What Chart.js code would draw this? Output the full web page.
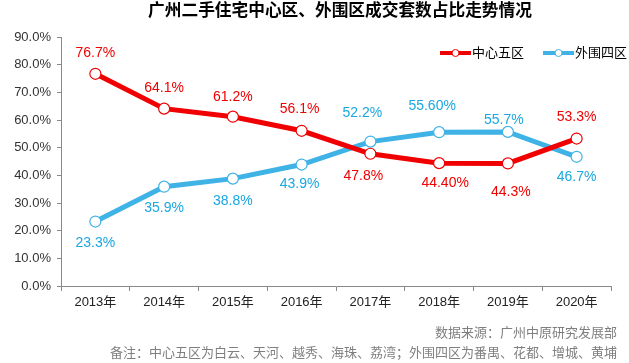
<!DOCTYPE html>
<html>
<head>
<meta charset="utf-8">
<script src="https://cdn.jsdelivr.net/npm/chart.js@4"></script>
<style>
  html, body { margin: 0; padding: 0; background: #fff; }
  #wrap { width: 629px; height: 363px; position: relative; }
</style>
</head>
<body>
<div id="wrap"><canvas id="shareChart"></canvas></div>
<script>
// data
const years = ['2013年', '2014年', '2015年', '2016年', '2017年', '2018年', '2019年', '2020年'];
const coreShare = [76.7, 64.1, 61.2, 56.1, 47.8, 44.4, 44.3, 53.3];
const outerShare = [23.3, 35.9, 38.8, 43.9, 52.2, 55.6, 55.7, 46.7];
const coreLabels = ['76.7%', '64.1%', '61.2%', '56.1%', '47.8%', '44.40%', '44.3%', '53.3%'];
const outerLabels = ['23.3%', '35.9%', '38.8%', '43.9%', '52.2%', '55.60%', '55.7%', '46.7%'];
const seriesNames = ['中心五区', '外围四区'];
const yTicks = [0, 10, 20, 30, 40, 50, 60, 70, 80, 90];

const titleText = '广州二手住宅中心区、外围区成交套数占比走势情况';
const sourceText = '数据来源：广州中原研究发展部';
const noteText = '备注：中心五区为白云、天河、越秀、海珠、荔湾；外围四区为番禺、花都、增城、黄埔';

// label placement (pixels from the point), kept apart from the data
const coreOffY = [-21, -21, -20, -22, 22, 20, 29, -21];
const coreOffX = [0, 0, 0, -2, -7, 6, 3, 0];
const outerOffY = [22, 21, 22, 20, -28, -26, -12, 20];
const outerOffX = [0, 0, 0, -2, -8, -7, -4, 0];

const RED = '#f00000';
const BLUE = '#3fb2e6';
const BLUE_TEXT = '#1aa7e0';
const FONT = '"Liberation Sans", Arial, "Noto Sans CJK SC", sans-serif';

// draws the value labels next to each point
const valueLabels = {
    id: 'valueLabels',
    afterDatasetsDraw(chart) {
        const ctx = chart.ctx;
        const sets = [
            { labels: coreLabels, dx: coreOffX, dy: coreOffY, color: RED },
            { labels: outerLabels, dx: outerOffX, dy: outerOffY, color: BLUE_TEXT }
        ];
        ctx.save();
        ctx.font = '14px ' + FONT;
        ctx.textAlign = 'center';
        ctx.textBaseline = 'middle';
        sets.forEach((s, di) => {
            const meta = chart.getDatasetMeta(di);
            meta.data.forEach((pt, i) => {
                ctx.fillStyle = s.color;
                ctx.fillText(s.labels[i], pt.x + s.dx[i], pt.y + s.dy[i]);
            });
        });
        ctx.restore();
    }
};

// title, legend and footer notes
const decorations = {
    id: 'decorations',
    afterDraw(chart) {
        const ctx = chart.ctx;
        ctx.save();
        ctx.textBaseline = 'middle';

        ctx.font = 'bold 16.7px ' + FONT;
        ctx.fillStyle = '#000';
        ctx.textAlign = 'center';
        ctx.fillText(titleText, 340, 11);

        // legend
        const items = [
            { name: seriesNames[0], color: RED, x: 440 },
            { name: seriesNames[1], color: BLUE, x: 543 }
        ];
        ctx.font = '13px ' + FONT;
        ctx.textAlign = 'left';
        items.forEach(it => {
            ctx.strokeStyle = it.color;
            ctx.lineWidth = 4;
            ctx.lineCap = 'butt';
            ctx.beginPath();
            ctx.moveTo(it.x, 53);
            ctx.lineTo(it.x + 31, 53);
            ctx.stroke();
            ctx.beginPath();
            ctx.arc(it.x + 15.5, 53, 3.5, 0, Math.PI * 2);
            ctx.fillStyle = '#fff';
            ctx.fill();
            ctx.lineWidth = 1;
            ctx.stroke();
            ctx.fillStyle = '#000';
            ctx.fillText(it.name, it.x + 32, 53);
        });

        // footer
        ctx.fillStyle = '#7f7f7f';
        ctx.textAlign = 'right';
        ctx.font = '13px ' + FONT;
        ctx.fillText(sourceText, 617, 333);
        ctx.fillText(noteText, 617, 353);
        ctx.restore();
    }
};

const ctx = document.getElementById('shareChart').getContext('2d');
const chart = new Chart(ctx, {
    type: 'line',
    data: {
        labels: years,
        datasets: [{
            label: seriesNames[0],
            data: coreShare,
            borderColor: RED,
            backgroundColor: '#fff',
            borderWidth: 5,
            pointRadius: 5.5,
            pointBorderWidth: 1.2,
            pointBackgroundColor: '#fff',
            pointBorderColor: RED,
            tension: 0
        }, {
            label: seriesNames[1],
            data: outerShare,
            borderColor: BLUE,
            backgroundColor: '#fff',
            borderWidth: 5,
            pointRadius: 5.5,
            pointBorderWidth: 1.2,
            pointBackgroundColor: '#fff',
            pointBorderColor: BLUE,
            tension: 0
        }]
    },
    options: {
        responsive: true,
        maintainAspectRatio: false,
        animation: false,
        layout: { padding: { left: 0, top: 37, right: 18, bottom: 0 } },
        plugins: {
            legend: { display: false },
            title: { display: false },
            tooltip: { enabled: false }
        },
        scales: {
            x: {
                offset: true,
                grid: {
                    offset: true,
                    drawOnChartArea: false,
                    tickLength: 5,
                    color: '#898989'
                },
                border: { color: '#898989', width: 1 },
                ticks: {
                    color: '#222',
                    font: { size: 13, family: FONT },
                    padding: 4,
                    maxRotation: 0
                },
                afterFit(scale) { scale.height = 77; }
            },
            y: {
                min: 0,
                max: 90,
                afterBuildTicks(scale) { scale.ticks = yTicks.map(v => ({ value: v })); },
                grid: {
                    drawOnChartArea: false,
                    tickLength: 4,
                    color: '#898989'
                },
                border: { color: '#898989', width: 1 },
                ticks: {
                    color: '#333',
                    font: { size: 13, family: FONT },
                    padding: 6,
                    callback: v => v.toFixed(1) + '%'
                },
                afterFit(scale) { scale.width = 61; }
            }
        }
    },
    plugins: [valueLabels, decorations]
});
</script>
</body>
</html>
